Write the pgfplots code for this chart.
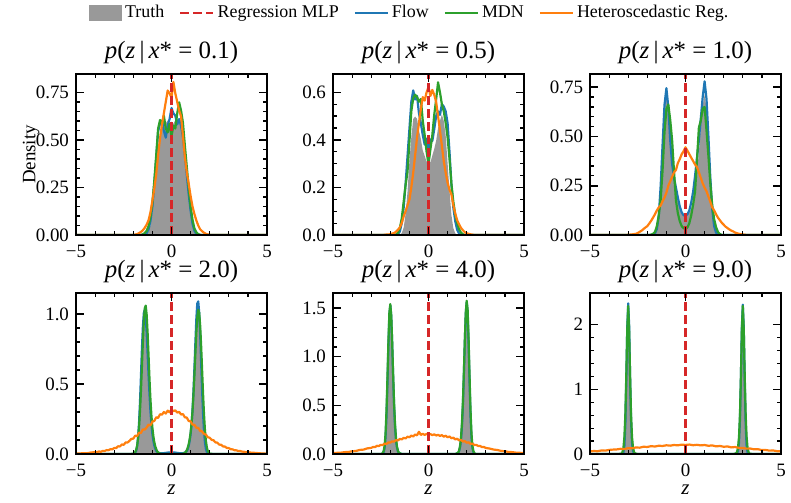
\documentclass[border=0pt]{standalone}
\usepackage{fontspec}
\setmainfont{Liberation Serif}
\usepackage{pgfplots}
\pgfplotsset{compat=1.18}
\usepackage{pgfplotstable}

\definecolor{tabblue}{HTML}{1F77B4}
\definecolor{tabgreen}{HTML}{2CA02C}
\definecolor{taborange}{HTML}{FF7F0E}
\definecolor{tabred}{HTML}{D62728}
\definecolor{truthgray}{HTML}{999999}

\newcommand{\figfont}{\fontsize{9}{10.8}\selectfont}
\newcommand{\tickfont}{\fontsize{9.5}{11.4}\selectfont}
\newcommand{\titlefont}{\fontsize{12.5}{15}\selectfont}

% ---------- x* = 0.1 ----------
\pgfplotstableread{
z t f m
-5.0 0 0 0
-1.8 0 0 0
-1.7 0 0 0
-1.6 0 0 0.000
-1.5 0.000 0.000 0.004
-1.4 0.002 0.003 0.010
-1.3 0.005 0.010 0.022
-1.2 0.018 0.030 0.048
-1.1 0.052 0.075 0.098
-1.0 0.118 0.150 0.170
-0.9 0.224 0.270 0.285
-0.8 0.332 0.405 0.420
-0.7 0.451 0.545 0.560
-0.6 0.522 0.585 0.605
-0.5 0.571 0.600 0.585
-0.4 0.596 0.548 0.628
-0.3 0.588 0.512 0.560
-0.2 0.603 0.575 0.540
-0.1 0.579 0.610 0.585
0.0 0.597 0.668 0.520
0.1 0.584 0.640 0.575
0.2 0.606 0.628 0.560
0.3 0.596 0.582 0.640
0.4 0.607 0.610 0.698
0.5 0.574 0.575 0.655
0.6 0.531 0.515 0.590
0.7 0.441 0.420 0.470
0.8 0.342 0.318 0.360
0.9 0.217 0.215 0.250
1.0 0.122 0.128 0.150
1.1 0.049 0.060 0.080
1.2 0.016 0.022 0.035
1.3 0.004 0.006 0.014
1.4 0.001 0.001 0.005
1.5 0.000 0.000 0.001
1.6 0 0 0
1.7 0 0 0
1.8 0 0 0
5.0 0 0 0
}\tA
\pgfplotstableread{
z h
-5.0 0
-2.1 0.000
-2.0 0.001
-1.9 0.002
-1.8 0.005
-1.7 0.010
-1.6 0.016
-1.5 0.025
-1.4 0.038
-1.3 0.055
-1.2 0.078
-1.1 0.120
-1.0 0.180
-0.9 0.245
-0.8 0.320
-0.7 0.420
-0.6 0.510
-0.5 0.580
-0.4 0.640
-0.3 0.700
-0.2 0.760
-0.1 0.745
0.0 0.722
0.1 0.805
0.2 0.745
0.3 0.700
0.4 0.655
0.5 0.625
0.6 0.520
0.7 0.410
0.8 0.330
0.9 0.270
1.0 0.205
1.1 0.150
1.2 0.110
1.3 0.077
1.4 0.050
1.5 0.030
1.6 0.020
1.7 0.012
1.8 0.006
1.9 0.003
2.0 0.001
2.1 0.000
5.0 0
}\hA

% ---------- x* = 0.5 ----------
\pgfplotstableread{
z t f m
-5.0 0 0 0
-1.9 0 0 0
-1.8 0 0 0
-1.7 0 0.000 0.002
-1.6 0.000 0.002 0.010
-1.5 0.001 0.015 0.030
-1.4 0.008 0.050 0.070
-1.3 0.031 0.115 0.140
-1.2 0.088 0.215 0.210
-1.1 0.181 0.330 0.265
-1.0 0.309 0.445 0.390
-0.9 0.411 0.560 0.520
-0.8 0.488 0.608 0.575
-0.7 0.498 0.570 0.590
-0.6 0.489 0.585 0.580
-0.5 0.440 0.512 0.560
-0.4 0.404 0.470 0.572
-0.3 0.355 0.420 0.480
-0.2 0.333 0.380 0.420
-0.1 0.308 0.405 0.350
0.0 0.310 0.350 0.298
0.1 0.306 0.402 0.360
0.2 0.334 0.395 0.420
0.3 0.362 0.445 0.505
0.4 0.396 0.500 0.570
0.5 0.449 0.520 0.642
0.6 0.480 0.505 0.600
0.7 0.507 0.550 0.550
0.8 0.479 0.540 0.520
0.9 0.418 0.520 0.470
1.0 0.301 0.470 0.410
1.1 0.187 0.350 0.320
1.2 0.084 0.212 0.215
1.3 0.029 0.115 0.140
1.4 0.007 0.058 0.085
1.5 0.001 0.022 0.050
1.6 0.000 0.006 0.025
1.7 0 0.000 0.010
1.8 0 0 0.003
1.9 0 0 0.000
5.0 0 0 0
}\tB
\pgfplotstableread{
z h
-5.0 0
-2.4 0.000
-2.2 0.002
-2.0 0.003
-1.9 0.006
-1.8 0.008
-1.7 0.014
-1.6 0.022
-1.5 0.032
-1.4 0.050
-1.3 0.078
-1.2 0.100
-1.1 0.125
-1.0 0.148
-0.9 0.200
-0.8 0.262
-0.7 0.335
-0.6 0.410
-0.5 0.470
-0.4 0.530
-0.3 0.580
-0.2 0.565
-0.1 0.600
0.0 0.622
0.1 0.585
0.2 0.610
0.3 0.590
0.4 0.560
0.5 0.500
0.6 0.440
0.7 0.375
0.8 0.310
0.9 0.262
1.0 0.220
1.1 0.190
1.2 0.170
1.3 0.125
1.4 0.090
1.5 0.062
1.6 0.045
1.7 0.030
1.8 0.020
1.9 0.012
2.0 0.007
2.2 0.003
2.4 0.000
5.0 0
}\hB

% ---------- x* = 1.0 ----------
\pgfplotstableread{
z t f m
-5.0 0 0 0
-1.9 0 0 0.000
-1.8 0.000 0.000 0.002
-1.7 0.001 0.002 0.006
-1.6 0.006 0.008 0.015
-1.5 0.030 0.030 0.045
-1.4 0.110 0.095 0.100
-1.3 0.276 0.250 0.180
-1.2 0.478 0.460 0.330
-1.1 0.652 0.660 0.520
-1.0 0.700 0.745 0.640
-0.9 0.664 0.650 0.662
-0.8 0.540 0.480 0.585
-0.7 0.425 0.360 0.480
-0.6 0.309 0.290 0.320
-0.5 0.233 0.240 0.175
-0.4 0.170 0.190 0.110
-0.3 0.137 0.145 0.070
-0.2 0.110 0.115 0.045
-0.1 0.102 0.100 0.035
0.0 0.094 0.098 0.030
0.1 0.101 0.105 0.038
0.2 0.114 0.125 0.060
0.3 0.133 0.165 0.100
0.4 0.176 0.220 0.155
0.5 0.227 0.300 0.220
0.6 0.316 0.390 0.380
0.7 0.417 0.480 0.545
0.8 0.551 0.590 0.580
0.9 0.655 0.700 0.640
1.0 0.712 0.780 0.650
1.1 0.645 0.690 0.530
1.2 0.484 0.500 0.400
1.3 0.271 0.290 0.260
1.4 0.114 0.130 0.150
1.5 0.031 0.045 0.080
1.6 0.005 0.012 0.040
1.7 0.001 0.002 0.015
1.8 0.000 0.000 0.005
1.9 0 0 0.000
5.0 0 0 0
}\tC
\pgfplotstableread{
z h
-5.0 0
-3.2 0.000
-3.0 0.001
-2.8 0.003
-2.6 0.006
-2.5 0.010
-2.4 0.016
-2.3 0.022
-2.2 0.030
-2.1 0.038
-2.0 0.045
-1.9 0.058
-1.8 0.072
-1.7 0.088
-1.6 0.105
-1.5 0.125
-1.4 0.140
-1.3 0.150
-1.2 0.172
-1.1 0.190
-1.0 0.215
-0.9 0.250
-0.8 0.272
-0.7 0.295
-0.6 0.318
-0.5 0.330
-0.4 0.365
-0.3 0.385
-0.2 0.410
-0.1 0.425
0.0 0.445
0.1 0.428
0.2 0.410
0.3 0.392
0.4 0.375
0.5 0.358
0.6 0.345
0.7 0.318
0.8 0.290
0.9 0.262
1.0 0.240
1.1 0.222
1.2 0.195
1.3 0.168
1.4 0.140
1.5 0.125
1.6 0.105
1.7 0.088
1.8 0.075
1.9 0.062
2.0 0.052
2.1 0.042
2.2 0.035
2.3 0.028
2.4 0.022
2.5 0.018
2.6 0.012
2.8 0.006
3.0 0.003
3.2 0.000
5.0 0
}\hC

% ---------- x* = 2.0 ----------
\pgfplotstableread{
z t f m
-5.0 0 0 0
-2.2 0 0 0
-2.00 0.000 0.000 0.002
-1.95 0.002 0.002 0.006
-1.90 0.006 0.008 0.014
-1.85 0.019 0.022 0.030
-1.80 0.051 0.055 0.060
-1.75 0.115 0.118 0.112
-1.70 0.224 0.220 0.192
-1.65 0.385 0.370 0.305
-1.60 0.585 0.555 0.450
-1.55 0.780 0.745 0.620
-1.50 0.940 0.905 0.795
-1.45 1.030 1.005 0.945
-1.40 1.045 1.030 1.040
-1.35 0.990 0.980 1.060
-1.30 0.885 0.865 0.995
-1.25 0.740 0.715 0.865
-1.20 0.585 0.560 0.700
-1.15 0.437 0.420 0.530
-1.10 0.314 0.300 0.385
-1.05 0.219 0.210 0.272
-1.00 0.148 0.142 0.188
-0.95 0.099 0.095 0.128
-0.90 0.065 0.060 0.085
-0.85 0.042 0.038 0.055
-0.80 0.027 0.022 0.035
-0.75 0.018 0.015 0.020
-0.70 0.012 0.010 0.010
-0.60 0.005 0.006 0.003
-0.50 0.002 0.005 0.000
-0.40 0.001 0.006 0
-0.20 0.000 0.010 0
0.00 0.000 0.012 0
0.20 0.000 0.010 0
0.40 0.001 0.006 0
0.50 0.002 0.005 0.000
0.60 0.005 0.006 0.002
0.70 0.012 0.010 0.008
0.75 0.018 0.014 0.015
0.80 0.027 0.020 0.027
0.85 0.042 0.035 0.045
0.90 0.065 0.058 0.070
0.95 0.099 0.092 0.105
1.00 0.148 0.140 0.152
1.05 0.219 0.212 0.218
1.10 0.314 0.315 0.305
1.15 0.437 0.450 0.420
1.20 0.585 0.615 0.560
1.25 0.747 0.795 0.715
1.30 0.903 0.965 0.865
1.35 1.028 1.075 0.978
1.40 1.070 1.090 1.030
1.45 1.050 1.010 1.010
1.50 0.950 0.860 0.920
1.55 0.785 0.665 0.780
1.60 0.585 0.465 0.610
1.65 0.385 0.295 0.440
1.70 0.224 0.168 0.290
1.75 0.115 0.085 0.175
1.80 0.051 0.038 0.095
1.85 0.019 0.015 0.048
1.90 0.006 0.005 0.022
1.95 0.002 0.001 0.009
2.00 0.000 0.000 0.003
2.2 0 0 0
5.0 0 0 0
}\tD
\pgfplotstableread{
z h
-5.0 0.003
-4.8 0.004
-4.6 0.006
-4.4 0.006
-4.2 0.011
-4.0 0.013
-3.9 0.013
-3.8 0.018
-3.7 0.016
-3.6 0.022
-3.5 0.021
-3.4 0.028
-3.3 0.027
-3.2 0.034
-3.1 0.033
-3.0 0.043
-2.9 0.042
-2.8 0.055
-2.7 0.054
-2.6 0.068
-2.5 0.066
-2.4 0.083
-2.3 0.082
-2.2 0.094
-2.1 0.108
-2.0 0.110
-1.9 0.131
-1.8 0.128
-1.7 0.152
-1.6 0.150
-1.5 0.176
-1.4 0.174
-1.3 0.190
-1.2 0.210
-1.1 0.205
-1.0 0.232
-0.9 0.236
-0.8 0.262
-0.7 0.258
-0.6 0.284
-0.5 0.281
-0.4 0.300
-0.3 0.289
-0.2 0.310
-0.1 0.298
0.0 0.318
0.1 0.306
0.2 0.312
0.3 0.296
0.4 0.301
0.5 0.282
0.6 0.285
0.7 0.262
0.8 0.260
0.9 0.236
1.0 0.233
1.1 0.210
1.2 0.208
1.3 0.188
1.4 0.186
1.5 0.165
1.6 0.162
1.7 0.143
1.8 0.139
1.9 0.120
2.0 0.116
2.1 0.101
2.2 0.098
2.3 0.083
2.4 0.081
2.5 0.067
2.6 0.066
2.7 0.054
2.8 0.053
2.9 0.043
3.0 0.042
3.1 0.034
3.2 0.033
3.3 0.027
3.4 0.026
3.5 0.021
3.6 0.021
3.7 0.017
3.8 0.016
3.9 0.013
4.0 0.013
4.2 0.009
4.4 0.008
4.6 0.005
4.8 0.004
5.0 0.002
}\hD

% ---------- x* = 4.0 ----------
\pgfplotstableread{
z t f m
-5.0 0 0 0
-2.6 0 0 0
-2.45 0.000 0.001 0.002
-2.40 0.003 0.004 0.009
-2.35 0.015 0.017 0.029
-2.30 0.057 0.060 0.082
-2.25 0.166 0.170 0.205
-2.20 0.387 0.388 0.440
-2.15 0.720 0.725 0.780
-2.10 1.090 1.110 1.150
-2.05 1.400 1.420 1.450
-2.00 1.520 1.530 1.540
-1.95 1.410 1.420 1.420
-1.90 1.120 1.130 1.140
-1.85 0.790 0.790 0.810
-1.80 0.495 0.490 0.515
-1.75 0.274 0.272 0.300
-1.70 0.135 0.138 0.160
-1.65 0.061 0.064 0.078
-1.60 0.025 0.028 0.034
-1.55 0.010 0.010 0.012
-1.40 0 0 0
1.40 0 0 0
1.55 0.010 0.010 0.012
1.60 0.025 0.030 0.035
1.65 0.061 0.068 0.080
1.70 0.135 0.142 0.165
1.75 0.274 0.280 0.310
1.80 0.495 0.500 0.530
1.85 0.790 0.805 0.830
1.90 1.120 1.150 1.160
1.95 1.410 1.440 1.450
2.00 1.530 1.560 1.575
2.05 1.420 1.450 1.480
2.10 1.100 1.130 1.180
2.15 0.720 0.740 0.800
2.20 0.387 0.395 0.450
2.25 0.166 0.172 0.210
2.30 0.057 0.062 0.085
2.35 0.015 0.018 0.030
2.40 0.003 0.004 0.009
2.45 0.000 0.001 0.002
2.6 0 0 0
5.0 0 0 0
}\tE
\pgfplotstableread{
z h
-5.0 0.009
-4.8 0.012
-4.6 0.013
-4.4 0.019
-4.2 0.021
-4.0 0.028
-3.8 0.031
-3.6 0.042
-3.4 0.045
-3.2 0.058
-3.0 0.063
-2.9 0.072
-2.8 0.071
-2.7 0.084
-2.6 0.082
-2.5 0.094
-2.4 0.092
-2.3 0.106
-2.2 0.104
-2.1 0.118
-2.0 0.117
-1.9 0.130
-1.8 0.127
-1.7 0.143
-1.6 0.139
-1.5 0.155
-1.4 0.150
-1.3 0.166
-1.2 0.160
-1.1 0.178
-1.0 0.172
-0.9 0.189
-0.8 0.180
-0.7 0.200
-0.6 0.192
-0.5 0.228
-0.4 0.196
-0.3 0.208
-0.2 0.196
-0.1 0.206
0.0 0.197
0.1 0.205
0.2 0.194
0.3 0.202
0.4 0.190
0.5 0.197
0.6 0.186
0.7 0.194
0.8 0.178
0.9 0.188
1.0 0.172
1.1 0.180
1.2 0.162
1.3 0.168
1.4 0.150
1.5 0.157
1.6 0.140
1.7 0.145
1.8 0.128
1.9 0.132
2.0 0.116
2.1 0.120
2.2 0.104
2.3 0.106
2.4 0.093
2.5 0.094
2.6 0.082
2.7 0.083
2.8 0.071
2.9 0.072
3.0 0.062
3.2 0.056
3.4 0.046
3.6 0.041
3.8 0.032
4.0 0.028
4.2 0.021
4.4 0.019
4.6 0.013
4.8 0.012
5.0 0.008
}\hE

% ---------- x* = 9.0 ----------
\pgfplotstableread{
z t f m
-5.0 0 0 0
-3.5 0 0 0
-3.35 0 0 0.008
-3.30 0.002 0.003 0.030
-3.25 0.018 0.022 0.095
-3.20 0.110 0.120 0.260
-3.15 0.435 0.450 0.610
-3.10 1.135 1.140 1.220
-3.05 1.991 1.960 1.920
-3.00 2.300 2.330 2.290
-2.95 2.003 1.980 1.900
-2.90 1.193 1.180 1.200
-2.85 0.511 0.520 0.600
-2.80 0.162 0.175 0.260
-2.75 0.038 0.045 0.100
-2.70 0.007 0.010 0.035
-2.65 0 0 0.010
-2.5 0 0 0
2.5 0 0 0
2.65 0 0 0.010
2.70 0.007 0.010 0.035
2.75 0.038 0.045 0.100
2.80 0.162 0.175 0.260
2.85 0.511 0.520 0.600
2.90 1.193 1.180 1.200
2.95 2.003 1.960 1.900
3.00 2.280 2.310 2.290
3.05 1.991 1.960 1.920
3.10 1.135 1.140 1.220
3.15 0.435 0.450 0.610
3.20 0.110 0.120 0.260
3.25 0.018 0.022 0.095
3.30 0.002 0.003 0.030
3.35 0 0 0.008
3.5 0 0 0
5.0 0 0 0
}\tF
\pgfplotstableread{
z h
-5.0 0.040
-4.8 0.046
-4.6 0.043
-4.4 0.055
-4.2 0.052
-4.0 0.063
-3.8 0.068
-3.6 0.071
-3.4 0.080
-3.2 0.077
-3.0 0.090
-2.8 0.088
-2.6 0.101
-2.4 0.098
-2.2 0.112
-2.0 0.109
-1.8 0.121
-1.6 0.116
-1.4 0.128
-1.2 0.124
-1.0 0.135
-0.8 0.129
-0.6 0.139
-0.4 0.134
-0.2 0.145
0.0 0.140
0.2 0.146
0.4 0.136
0.6 0.142
0.8 0.133
1.0 0.139
1.2 0.127
1.4 0.133
1.6 0.118
1.8 0.124
2.0 0.112
2.2 0.117
2.4 0.102
2.6 0.108
2.8 0.094
3.0 0.092
3.2 0.083
3.4 0.084
3.6 0.072
3.8 0.073
4.0 0.061
4.2 0.062
4.4 0.052
4.6 0.054
4.8 0.043
5.0 0.042
}\hF

\pgfplotsset{
  panel/.style={
    scale only axis, width=95.5bp, height=80.5bp,
    anchor=north west,
    xmin=-5, xmax=5, ymin=0,
    xtick={-5,0,5}, xticklabels={−5,0,5},
    minor x tick num=4,
    tick align=inside, tick pos=both,
    major tick length=4bp, minor tick length=2bp,
    major tick style={black, line width=0.8bp},
    minor tick style={black, line width=0.6bp},
    axis line style={black, line width=0.9bp},
    tick label style={font=\tickfont},
    xticklabel style={inner sep=1bp},
    xticklabel shift=3.7bp,
    every axis title shift=0pt,
    title style={font=\titlefont, at={(0.5,1)}, anchor=center,
      yshift=10.5bp, inner sep=0pt},
    label style={font=\tickfont},
    /pgf/number format/assume math mode=true,
    axis on top,
  },
  bottomrow/.style={
    xlabel={\textit{z}},
    xlabel style={at={(axis description cs:0.5,-0.2236)}, anchor=center,
      font=\fontsize{10.5}{12.6}\selectfont},
  },
  linelegend/.style={legend image code/.code={\draw[##1] (0bp,0bp) -- (16.5bp,0bp);}},
  boxlegend/.style={legend image code/.code={\fill[##1] (0bp,-4bp) rectangle (16.5bp,4bp);}},
  truth/.style={draw=none, fill=truthgray, forget plot},
  flow/.style={tabblue, line width=1.1bp, line join=round, forget plot},
  mdn/.style={tabgreen, line width=1.1bp, line join=round, forget plot},
  het/.style={taborange, line width=1.1bp, line join=round, forget plot},
  regline/.style={tabred, line width=1.2bp, dash pattern=on 4.5bp off 2bp, forget plot},
}

% one panel: truth fill, three estimated densities, point prediction
\newcommand{\panelplots}[2]{%
  \addplot[truth] table[x=z, y=t] {#1} \closedcycle;
  \addplot[flow] table[x=z, y=f] {#1};
  \addplot[mdn] table[x=z, y=m] {#1};
  \addplot[het] table[x=z, y=h] {#2};
  \addplot[regline] coordinates {(0,0) (0,3)};
}
% panel title p(z | x* = value)
\newcommand{\ptitle}[1]{\textit{p}(\textit{z}\,|\,\textit{x}*~=~#1)}

\begin{document}
\begin{tikzpicture}
\useasboundingbox (0,0) rectangle (395.5bp,251.5bp);

\begin{axis}[panel, at={(38bp,214.5bp)},
  ymax=0.847, ytick={0,0.25,0.5,0.75}, minor y tick num=4,
  yticklabel style={/pgf/number format/.cd, fixed, fixed zerofill, precision=2},
  title={\ptitle{0.1}},
  ylabel={Density},
  ylabel style={at={(axis description cs:-0.235,0.5)}, anchor=center},
  legend columns=5,
  legend style={draw=none, fill=none, font=\figfont,
    at={(axis description cs:1.75,1.379)}, anchor=center,
    nodes={inner sep=1.5bp},
    /tikz/every even column/.append style={column sep=6bp}},
  linelegend,
]
\addlegendimage{boxlegend, fill=truthgray, draw=none}
\addlegendentry{Truth}
\addlegendimage{linelegend, tabred, line width=1.2bp, dash pattern=on 4.5bp off 2bp}
\addlegendentry{Regression MLP}
\addlegendimage{linelegend, tabblue, line width=1.1bp}
\addlegendentry{Flow}
\addlegendimage{linelegend, tabgreen, line width=1.1bp}
\addlegendentry{MDN}
\addlegendimage{linelegend, taborange, line width=1.1bp}
\addlegendentry{Heteroscedastic Reg.}
\panelplots{\tA}{\hA}
\end{axis}

\begin{axis}[panel, at={(166.5bp,214.5bp)},
  ymax=0.677, ytick={0,0.2,0.4,0.6}, minor y tick num=3,
  yticklabel style={/pgf/number format/.cd, fixed, fixed zerofill, precision=1},
  title={\ptitle{0.5}},
]
\panelplots{\tB}{\hB}
\end{axis}

\begin{axis}[panel, at={(295bp,214.5bp)},
  ymax=0.817, ytick={0,0.25,0.5,0.75}, minor y tick num=4,
  yticklabel style={/pgf/number format/.cd, fixed, fixed zerofill, precision=2},
  title={\ptitle{1.0}},
]
\panelplots{\tC}{\hC}
\end{axis}

\begin{axis}[panel, bottomrow, at={(38bp,105bp)},
  ymax=1.15, ytick={0,0.5,1}, minor y tick num=4,
  yticklabel style={/pgf/number format/.cd, fixed, fixed zerofill, precision=1},
  title={\ptitle{2.0}},
]
\panelplots{\tD}{\hD}
\end{axis}

\begin{axis}[panel, bottomrow, at={(166.5bp,105bp)},
  ymax=1.654, ytick={0,0.5,1,1.5}, minor y tick num=4,
  yticklabel style={/pgf/number format/.cd, fixed, fixed zerofill, precision=1},
  title={\ptitle{4.0}},
]
\panelplots{\tE}{\hE}
\end{axis}

\begin{axis}[panel, bottomrow, at={(295bp,105bp)},
  ymax=2.49, ytick={0,1,2}, minor y tick num=4,
  title={\ptitle{9.0}},
]
\panelplots{\tF}{\hF}
\end{axis}
\end{tikzpicture}
\end{document}
